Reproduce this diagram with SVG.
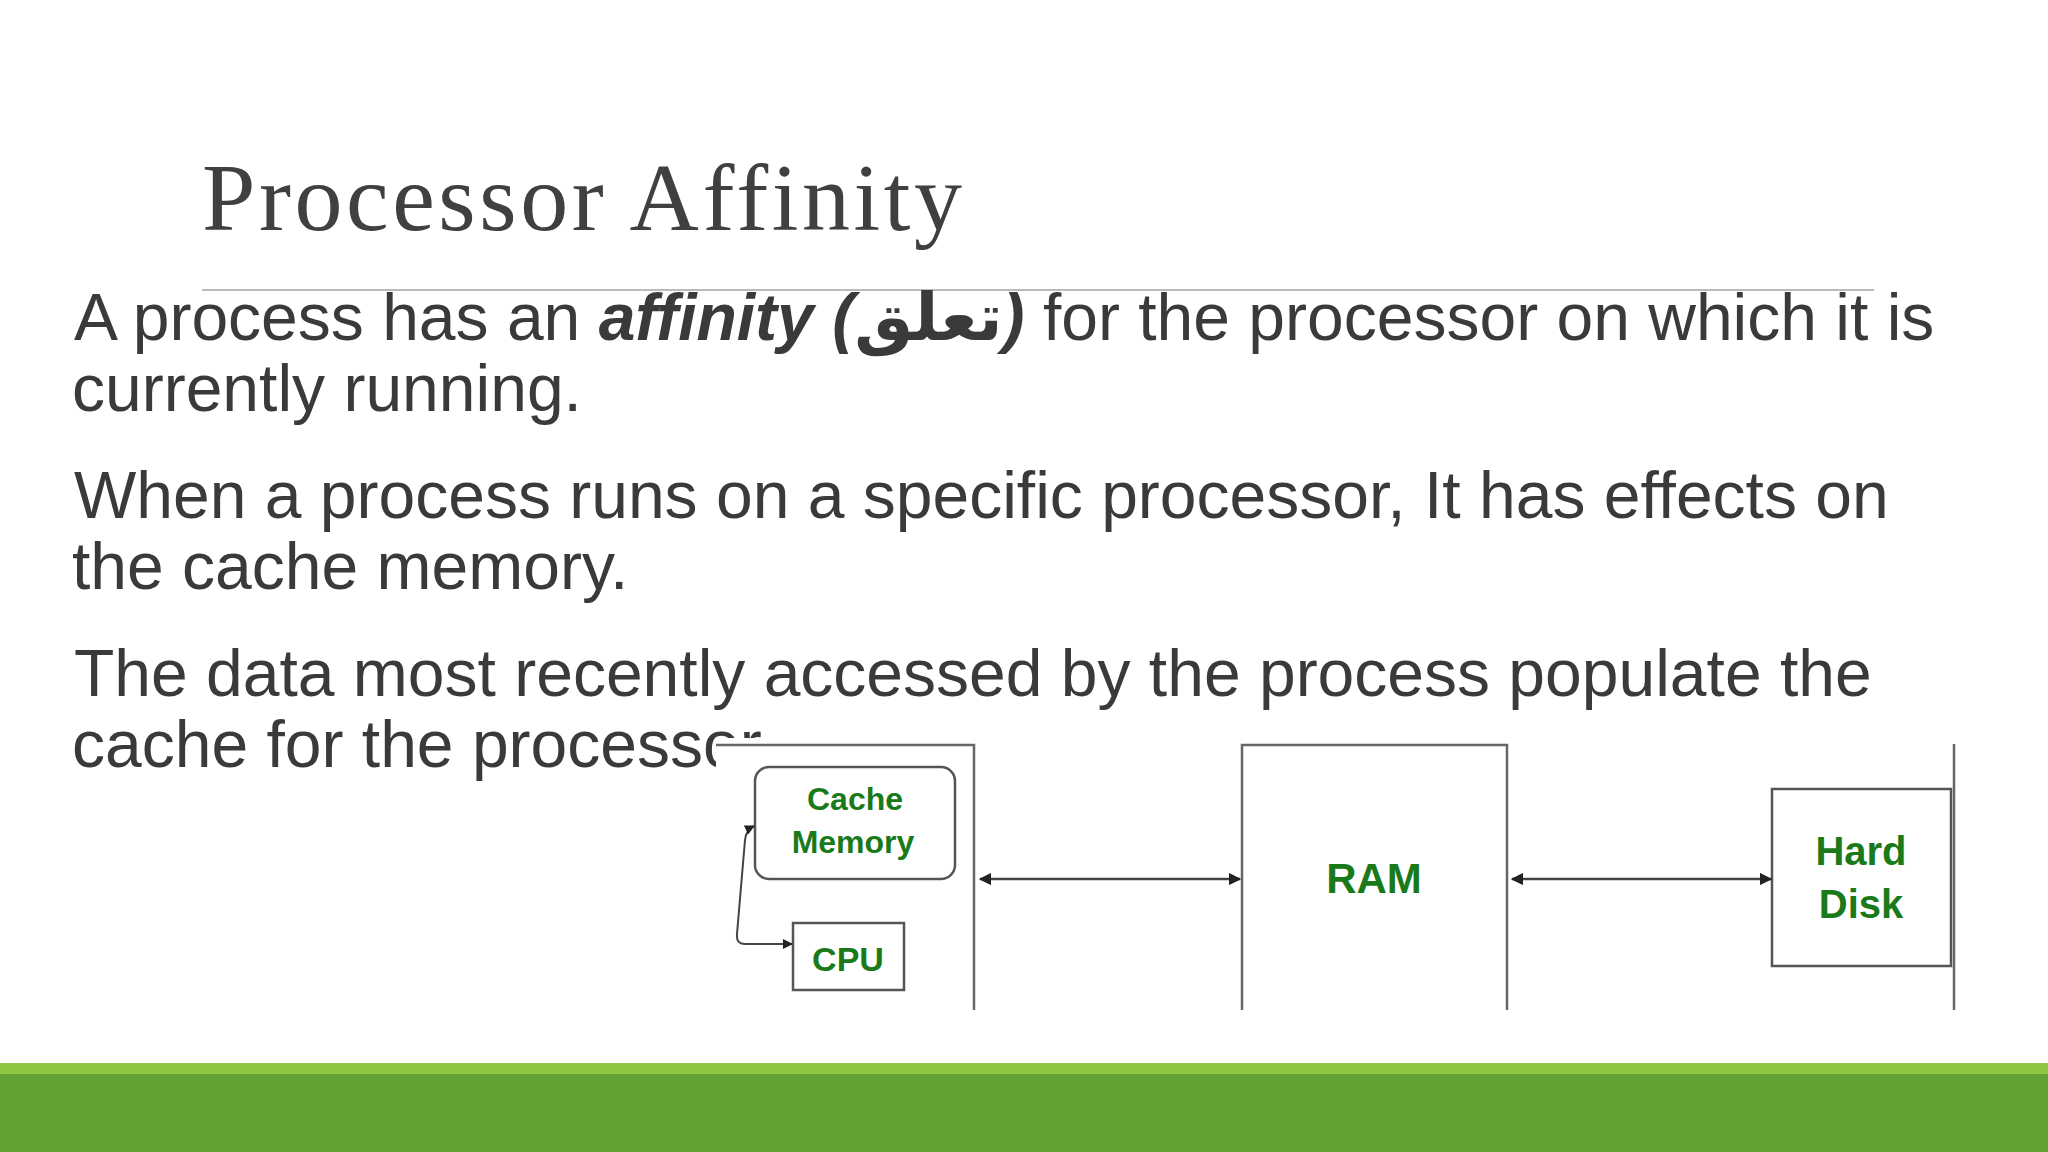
<svg xmlns="http://www.w3.org/2000/svg" width="2048" height="1152" viewBox="0 0 2048 1152">
<style>
.b{font-family:"Liberation Sans","DejaVu Sans",sans-serif;font-size:66px;fill:#3a3a3a}
.g{font-family:"Liberation Sans",sans-serif;font-weight:bold;fill:#1a7a1a;text-anchor:middle}
.ln{stroke:#666;stroke-width:2.5;fill:none}
.bx{stroke:#555;stroke-width:2.5;fill:#fff}
</style>
<defs>
<marker id="a" viewBox="0 0 10 10" refX="9" refY="5" markerWidth="5" markerHeight="5" orient="auto-start-reverse"><path d="M0,0L10,5L0,10z" fill="#222"/></marker>
</defs>
<rect width="2048" height="1152" fill="#fff"/>
<text x="202" y="230" font-family="Liberation Serif,serif" font-size="96" fill="#404040" textLength="760">Processor Affinity</text>
<line x1="202" y1="290" x2="1874" y2="290" stroke="#bbb" stroke-width="2"/>
<text class="b" x="74" y="340">A process has an <tspan font-weight="bold" font-style="italic">affinity (<tspan font-style="normal">تعلق</tspan>)</tspan> for the processor on which it is</text>
<text class="b" x="72" y="411">currently running.</text>
<text class="b" x="74" y="518">When a process runs on a specific processor, It has effects on</text>
<text class="b" x="72" y="589">the cache memory.</text>
<text class="b" x="74" y="696">The data most recently accessed by the process populate the</text>
<text class="b" x="72" y="767">cache for the processor.</text>
<rect x="716" y="738" width="1240" height="275" fill="#fff"/>
<rect x="0" y="1063" width="2048" height="11" fill="#8dc63f"/>
<rect x="0" y="1074" width="2048" height="78" fill="#62a133"/>
<g id="frame"><path class="ln" d="M716,745H974V1010"/></g>
<g id="cache"><rect class="bx" x="755" y="767" width="200" height="112" rx="14"/><text class="g" x="855" y="810" font-size="32">Cache</text><text class="g" x="853" y="853" font-size="32">Memory</text></g>
<g id="cpu"><rect class="bx" x="793" y="923" width="111" height="67"/><text class="g" x="848" y="971" font-size="34">CPU</text></g>
<g id="ram"><path class="ln" d="M1242,1010V745H1507V1010"/><text class="g" x="1374" y="893" font-size="42">RAM</text></g>
<g id="disk"><rect class="bx" x="1772" y="789" width="179" height="177"/><text class="g" x="1861" y="865" font-size="40">Hard</text><text class="g" x="1861" y="918" font-size="40">Disk</text><path class="ln" d="M1954,744V1010"/></g>
<g id="connectors" stroke="#444" stroke-width="2.5" fill="none">
<line x1="980" y1="879" x2="1240" y2="879" marker-start="url(#a)" marker-end="url(#a)"/>
<line x1="1512" y1="879" x2="1771" y2="879" marker-start="url(#a)" marker-end="url(#a)"/>
<path d="M792,944H745Q736,944 737,934L745,840Q746,830 754,826" stroke-width="2" marker-start="url(#a)" marker-end="url(#a)"/>
</g>
</svg>
